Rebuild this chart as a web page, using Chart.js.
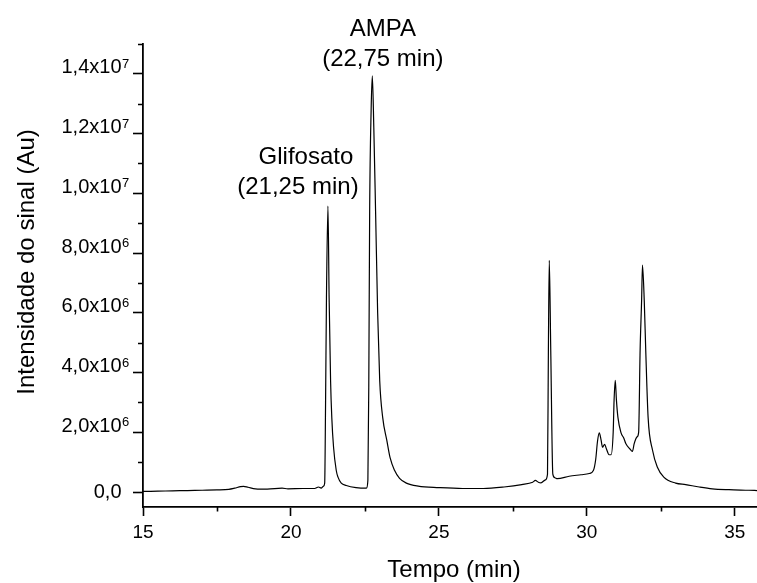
<!DOCTYPE html>
<html>
<head>
<meta charset="utf-8">
<title>Cromatograma</title>
<script src="https://cdn.jsdelivr.net/npm/chart.js@4.4.0/dist/chart.umd.min.js"></script>
<style>
  html, body { margin: 0; padding: 0; background: #fff; }
  #chromChart { display: block; }
</style>
</head>
<body>
<canvas id="chromChart" width="757" height="583"></canvas>
<script>
// retention time (min)
const times = [
  15.0, 15.5, 16.0, 16.5, 17.0, 17.5, 17.9, 18.1, 18.3, 18.4, 18.55, 18.8, 19.2, 19.7, 19.9,
  20.4, 20.8, 20.93, 21.02, 21.1, 21.14, 21.17, 21.2, 21.25, 21.29, 21.34, 21.38, 21.44, 21.53,
  21.59, 21.7, 21.87, 22.2, 22.55, 22.6, 22.63, 22.66, 22.71, 22.75, 22.8, 22.86, 22.93, 23.0,
  23.1, 23.24, 23.35, 23.5, 23.67, 23.9, 24.3, 25.0, 25.8, 26.5, 27.2, 27.8, 28.17, 28.26,
  28.36, 28.45, 28.6, 28.67, 28.7, 28.73, 28.78, 28.85, 28.92, 29.0, 29.4, 29.8, 30.08, 30.22,
  30.3, 30.36, 30.42, 30.48, 30.53, 30.6, 30.66, 30.75, 30.82, 30.89, 30.92, 30.96, 31.0, 31.05,
  31.15, 31.25, 31.32, 31.45, 31.54, 31.6, 31.7, 31.75, 31.8, 31.85, 31.88, 31.94, 31.99, 32.07,
  32.22, 32.38, 32.6, 33.0, 33.34, 33.8, 34.24, 34.8, 35.48, 35.75
];

// signal intensity (Au)
const intensities = [
  0.02e6, 0.03e6, 0.04e6, 0.05e6, 0.06e6, 0.07e6, 0.09e6, 0.13e6, 0.18e6, 0.19e6, 0.16e6, 0.11e6, 0.10e6, 0.13e6, 0.11e6,
  0.12e6, 0.12e6, 0.17e6, 0.13e6, 0.2e6, 0.3e6, 3.0e6, 6.5e6, 9.57e6, 6.5e6, 3.7e6, 2.5e6, 1.5e6, 0.73e6,
  0.5e6, 0.3e6, 0.22e6, 0.15e6, 0.13e6, 0.4e6, 3.5e6, 9.4e6, 12.8e6, 13.93e6, 12.2e6, 9.4e6, 6.0e6, 3.73e6,
  2.5e6, 1.73e6, 1.15e6, 0.73e6, 0.46e6, 0.3e6, 0.2e6, 0.15e6, 0.12e6, 0.12e6, 0.17e6, 0.25e6, 0.33e6, 0.39e6,
  0.33e6, 0.31e6, 0.41e6, 0.6e6, 4.75e6, 7.76e6, 4.75e6, 0.6e6, 0.48e6, 0.45e6, 0.53e6, 0.58e6, 0.62e6, 0.72e6,
  1.1e6, 1.7e6, 1.98e6, 1.75e6, 1.5e6, 1.6e6, 1.45e6, 1.25e6, 1.25e6, 2.0e6, 3.07e6, 3.74e6, 3.07e6, 2.5e6,
  2.0e6, 1.8e6, 1.62e6, 1.45e6, 1.36e6, 1.62e6, 1.85e6, 2.0e6, 4.75e6, 6.4e6, 7.6e6, 6.4e6, 4.75e6, 2.5e6,
  1.4e6, 0.84e6, 0.5e6, 0.3e6, 0.25e6, 0.17e6, 0.11e6, 0.08e6, 0.06e6, 0.05e6
];

const xMajorTicks = [15, 20, 25, 30, 35];
const xMinorTicks = [17.5, 22.5, 27.5, 32.5];
const yMajorTicks = [0, 2e6, 4e6, 6e6, 8e6, 1e7, 1.2e7, 1.4e7];
const yMinorTicks = [1e6, 3e6, 5e6, 7e6, 9e6, 1.1e7, 1.3e7, 1.5e7];
// [mantissa, exponent]
const yTickLabels = [
  ["0,0", ""], ["2,0x10", "6"], ["4,0x10", "6"], ["6,0x10", "6"],
  ["8,0x10", "6"], ["1,0x10", "7"], ["1,2x10", "7"], ["1,4x10", "7"]
];
const peakNames = ["Glifosato", "AMPA"];
const peakTimes = ["(21,25 min)", "(22,75 min)"];
const peakPositions = [21.25, 22.75];

const FONT = "'Liberation Sans', Arial, Helvetica, sans-serif";

const decorPlugin = {
  id: "decor",
  afterDraw(chart) {
    const ctx = chart.ctx;
    const xs = chart.scales.x;
    const ys = chart.scales.y;
    const area = chart.chartArea;
    ctx.save();
    ctx.strokeStyle = "#000";
    ctx.lineWidth = 1.6;

    // minor ticks
    ctx.beginPath();
    xMinorTicks.forEach(v => {
      const px = Math.round(xs.getPixelForValue(v)) + 0.5;
      ctx.moveTo(px, area.bottom);
      ctx.lineTo(px, area.bottom + 4.5);
    });
    yMinorTicks.forEach(v => {
      const py = Math.round(ys.getPixelForValue(v)) + 0.5;
      ctx.moveTo(area.left, py);
      ctx.lineTo(area.left - 5, py);
    });
    ctx.stroke();

    // y tick labels with superscript exponent
    ctx.fillStyle = "#000";
    ctx.textAlign = "right";
    const manRight = area.left - 21.5;
    yMajorTicks.forEach((v, i) => {
      const py = ys.getPixelForValue(v);
      const [man, exp] = yTickLabels[i];
      ctx.font = "20px " + FONT;
      if (exp) {
        ctx.textBaseline = "alphabetic";
        ctx.fillText(man, manRight, py - 0.5);
        ctx.font = "13px " + FONT;
        ctx.textAlign = "left";
        ctx.fillText(exp, manRight + 0.5, py - 6);
        ctx.textAlign = "right";
      } else {
        ctx.textBaseline = "middle";
        ctx.fillText(man, manRight, py);
      }
    });

    // axis titles
    ctx.font = "24px " + FONT;
    ctx.textBaseline = "alphabetic";
    ctx.textAlign = "center";
    ctx.fillText("Tempo (min)", 454, 576.5);
    ctx.save();
    ctx.translate(33.5, 262);
    ctx.rotate(-Math.PI / 2);
    ctx.fillText("Intensidade do sinal (Au)", 0, 0);
    ctx.restore();

    // peak annotations
    const g = xs.getPixelForValue(peakPositions[0]);
    ctx.fillText(peakNames[0], g - 22, 164.3);
    ctx.fillText(peakTimes[0], g - 30, 194.3);
    const a = xs.getPixelForValue(peakPositions[1]);
    ctx.fillText(peakNames[1], a + 10.5, 35.5);
    ctx.fillText(peakTimes[1], a + 10.5, 65.5);

    ctx.restore();
  }
};

const chromCanvas = document.getElementById("chromChart");

new Chart(chromCanvas, {
  type: "line",
  data: {
    datasets: [{
      label: "Sinal",
      data: times.map((t, i) => ({ x: t, y: intensities[i] })),
      borderColor: "#000",
      borderWidth: 1.2,
      pointRadius: 0,
      fill: false,
      cubicInterpolationMode: "monotone"
    }]
  },
  options: {
    responsive: false,
    animation: false,
    devicePixelRatio: 1,
    layout: { padding: { top: 44, right: 0, left: 0, bottom: 0 } },
    plugins: {
      legend: { display: false },
      tooltip: { enabled: false }
    },
    scales: {
      x: {
        type: "linear",
        min: 15,
        max: 35.75,
        afterBuildTicks: s => { s.ticks = xMajorTicks.map(v => ({ value: v })); },
        afterFit: s => { s.height = 76; },
        border: { display: true, color: "#000", width: 1.8 },
        grid: { drawOnChartArea: false, drawTicks: true, tickLength: 9, tickColor: "#000", tickWidth: 1.6 },
        ticks: {
          color: "#000",
          font: { family: FONT, size: 19 },
          padding: 5,
          maxRotation: 0,
          autoSkip: false,
          callback: v => String(v)
        }
      },
      y: {
        type: "linear",
        min: -5e5,
        max: 1.5e7,
        afterBuildTicks: s => { s.ticks = yMajorTicks.map(v => ({ value: v })); },
        afterFit: s => { s.width = 143; },
        border: { display: true, color: "#000", width: 1.8 },
        grid: { drawOnChartArea: false, drawTicks: true, tickLength: 10, tickColor: "#000", tickWidth: 1.6 },
        ticks: { display: false }
      }
    }
  },
  plugins: [decorPlugin]
});
</script>
</body>
</html>
